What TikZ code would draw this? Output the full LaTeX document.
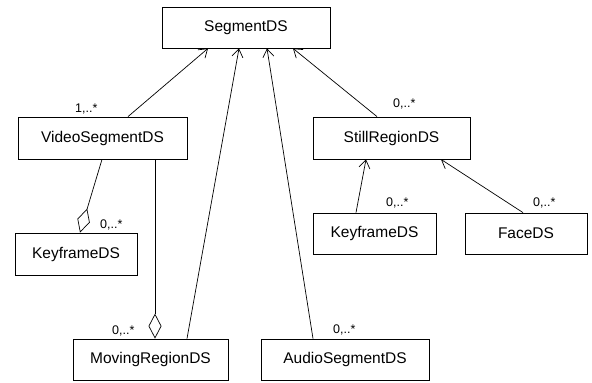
\documentclass[tikz,border=0pt]{standalone}
\usepackage{fontspec}
\setmainfont{Liberation Sans}
\usetikzlibrary{arrows.meta}
\begin{document}
\begin{tikzpicture}[x=1pt,y=-1pt,
  cls/.style={draw,line width=0.8pt,inner sep=0pt,font=\fontsize{15.5}{18}\selectfont},
  mult/.style={inner sep=0pt,anchor=base west,font=\fontsize{12.5}{14}\selectfont},
  conn/.style={line width=0.7pt},
  nav/.style={conn,-{Straight Barb[length=8pt,width=11pt,line width=0.7pt]}},
  agg/.style={conn,-{Diamond[open,length=25pt,width=13pt,line width=0.7pt]}}]
\useasboundingbox (0,0) rectangle (592,383);
\node[cls,minimum width=168pt,minimum height=41pt] (seg) at (246,27.5) {SegmentDS};
\node[cls,minimum width=169pt,minimum height=42pt] (vs) at (102.5,138) {VideoSegmentDS};
\node[cls,minimum width=122pt,minimum height=42pt] (kf1) at (76,254) {KeyframeDS};
\node[cls,minimum width=155pt,minimum height=41pt] (mr) at (150.5,359.5) {MovingRegionDS};
\node[cls,minimum width=168pt,minimum height=41pt] (as) at (345,359.5) {AudioSegmentDS};
\node[cls,minimum width=157pt,minimum height=42pt] (sr) at (391.5,138) {StillRegionDS};
\node[cls,minimum width=123pt,minimum height=41pt] (kf2) at (374.5,233.5) {KeyframeDS};
\node[cls,minimum width=122pt,minimum height=41pt] (face) at (526,233.5) {FaceDS};

\draw[nav] ([xshift=25.5pt]vs.north) -- ([xshift=-38pt]seg.south);
\draw[nav] ([xshift=36.5pt]mr.north) -- ([xshift=-7pt]seg.south);
\draw[nav] ([xshift=-32pt]as.north) -- ([xshift=21pt]seg.south);
\draw[nav] ([xshift=-14.5pt]sr.north) -- ([xshift=47pt]seg.south);
\draw[nav] ([xshift=-18.5pt]kf2.north) -- ([xshift=-25.5pt]sr.south);
\draw[nav] ([xshift=-3pt]face.north) -- ([xshift=49.5pt]sr.south);
\draw[agg] ([xshift=-0.5pt]vs.south) -- ([xshift=4pt]kf1.north);
\draw[agg] ([xshift=52.5pt]vs.south) -- ([xshift=4.5pt]mr.north);

\node[mult] (m1) at (75,112) {1,..*};
\node[mult] (m2) at (100,228) {0,..*};
\node[mult] (m3) at (112,334) {0,..*};
\node[mult] (m4) at (333,333) {0,..*};
\node[mult] (m5) at (393,107) {0,..*};
\node[mult] (m6) at (386,206) {0,..*};
\node[mult] (m7) at (533,206) {0,..*};
\end{tikzpicture}
\end{document}
